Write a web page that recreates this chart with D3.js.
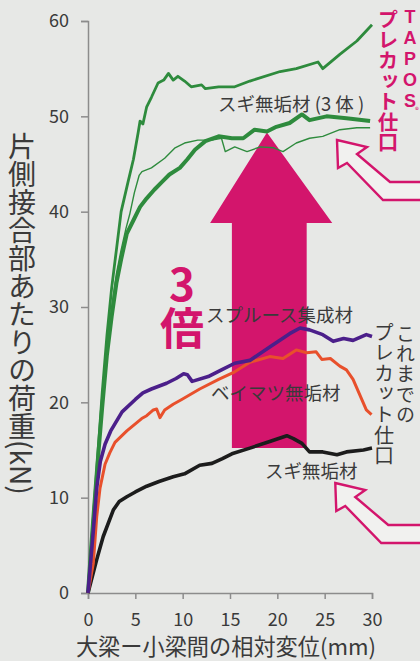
<!DOCTYPE html>
<html>
<head>
<meta charset="utf-8">
<script src="https://cdn.jsdelivr.net/npm/d3@7"></script>
<style>
  body { margin: 0; background: #e7e8e6; }
  svg { display: block; font-family: "Noto Sans CJK JP", sans-serif; }
</style>
</head>
<body>
<svg id="chart" width="420" height="661"></svg>
<script>
// values: [displacement mm, load kN]
let sugiTapos1 = [[0,0],[0.5,7],[1.0,14],[1.5,21],[2.0,27],[2.5,32],[3.0,36],[3.5,40],[4.2,43],[4.8,45.5],[5.3,48.3],[5.5,49.5],[5.8,49.2],[6.2,51],[6.7,52],[7.4,53.5],[8.0,53.8],[8.5,54.5],[9.0,53.8],[9.5,54.2],[10.2,53.7],[10.9,53.1],[12.0,53.3],[12.4,52.9],[13.8,53.1],[15.5,53.1],[17.1,53.7],[20.3,54.7],[22.0,55.0],[24.3,55.7],[24.8,55.0],[26.6,56.5],[28.4,57.9],[30,59.6]]
let sugiTapos2 = [[0,0],[0.5,7],[1.0,13.5],[1.5,19.5],[2.0,25],[2.5,29],[3.0,32.5],[3.5,35],[4.1,37.7],[4.8,39.1],[5.5,40.5],[6.2,41.4],[7.0,42.3],[7.9,43.2],[8.6,43.9],[9.7,44.6],[10.5,45.5],[11.3,46.5],[12.4,47.4],[13.8,47.9],[15.2,47.7],[16.4,47.7],[17.6,48.6],[18.9,48.4],[19.9,48.9],[21.3,49.3],[22.6,50.2],[23.4,49.6],[25.2,50.0],[27.3,49.8],[29.8,49.5]]
let sugiTapos3 = [[0,0],[0.5,7],[1.0,13.5],[1.5,20],[2.0,25.5],[2.5,30],[3.0,33.5],[3.5,36],[4.0,38.2],[4.4,39.7],[4.9,42],[5.4,43.8],[5.7,44.2],[6.7,44.6],[8.1,45.6],[9.2,46.7],[10.2,47.2],[11.6,47.5],[13.1,47.5],[14.1,47.7],[14.5,46.3],[15.5,46.8],[16.8,46.3],[18.2,46.8],[19.6,46.7],[20.6,46.3],[22.0,47.2],[23.4,47.7],[24.8,47.9],[26.6,48.6],[28.4,48.8],[29.8,48.8]]
let spruce = [[0,0],[0.3,3.5],[0.6,7],[0.92,11],[1.3,13.8],[1.8,15.6],[2.4,17],[3.6,19],[5.0,20.3],[5.8,21],[6.7,21.4],[8.3,22],[9.3,22.5],[10.1,23],[10.5,22.9],[11.0,22.2],[12.7,22.7],[14.1,23.4],[15.5,24.1],[17.1,24.4],[19.2,25.8],[21.3,27.2],[22.4,27.8],[23.4,27.6],[24.8,27.1],[25.9,26.4],[27.0,26.7],[28.0,26.5],[29.4,27.1],[30,26.9]]
let beimatsu = [[0,0],[0.56,3.1],[0.92,8],[1.27,11],[1.8,13.5],[2.3,14.7],[2.85,15.8],[4.1,17],[5.67,18.3],[6.2,18.6],[6.9,19.2],[7.25,19.3],[7.6,18.4],[8.1,19.2],[9.0,19.8],[9.9,20.3],[11.8,21.4],[13.8,22.4],[15.5,23.2],[17.1,24.2],[19.2,24.8],[20.6,24.6],[22.0,25.5],[23.1,25.2],[24.1,25.3],[24.7,24.5],[25.6,24.6],[26.6,23.8],[27.3,23.4],[28.0,22.4],[28.7,20.8],[29.4,19.2],[29.95,18.7]]
let sugi = [[0,0],[0.92,3.5],[1.6,5.9],[2.67,8.7],[3.3,9.6],[4.1,10.1],[5.0,10.6],[6.2,11.2],[7.5,11.7],[9.0,12.2],[10.2,12.5],[11.8,13.4],[13.1,13.6],[14.2,14.1],[15.2,14.6],[17.1,15.2],[19.2,15.9],[21.0,16.5],[21.7,16.2],[22.6,15.7],[23.4,14.8],[24.8,14.8],[26.3,14.5],[27.3,14.8],[29.1,15.0],[30,15.2]]

let xTicks = [0, 5, 10, 15, 20, 25, 30]
let yTicks = [0, 10, 20, 30, 40, 50, 60]

let svg = d3.select('#chart')
let pink = '#d3156c'
let ink = '#3a3a3a'

let x = d3.scaleLinear().domain([0, 30]).range([88, 372])
let y = d3.scaleLinear().domain([0, 60]).range([593, 21])

// vertical captions
function vtext(t, cx, top, size, color, weight, upright) {
    return svg.append('text').text(t)
        .attr('x', cx).attr('y', top)
        .style('writing-mode', 'vertical-rl')
        .style('text-orientation', upright ? 'upright' : 'mixed')
        .attr('font-size', size).attr('fill', color).attr('font-weight', weight)
}
// latin letters stacked one per line
function stack(chars, cx, firstY, step, size, color) {
    chars.split('').forEach((c, i) => {
        svg.append('text').text(c)
            .attr('x', cx).attr('y', firstY + i * step)
            .attr('text-anchor', 'middle').attr('dominant-baseline', 'central')
            .attr('font-family', '"Liberation Sans", sans-serif')
            .attr('font-size', size).attr('fill', color).attr('font-weight', 700)
    })
}

// big pink arrow (3x)
let arrow = [[15.2,15.2],[15.2,38.8],[12.9,38.8],[18.9,48.3],[25.8,38.8],[23.1,38.8],[23.1,15.2]]
svg.append('path')
    .attr('d', d3.line().x(d => x(d[0])).y(d => y(d[1]))(arrow) + 'Z')
    .attr('fill', pink)

vtext('3倍', 182, 262, 44, pink, 700, true)

// axes
let xAxis = svg.append('g')
    .attr('transform', 'translate(0,593)')
    .call(d3.axisBottom(x).tickValues(xTicks).tickSize(6).tickPadding(14))
let yAxis = svg.append('g')
    .attr('transform', 'translate(88,0)')
    .call(d3.axisLeft(y).tickValues(yTicks).tickSize(7).tickPadding(12))

;[xAxis, yAxis].forEach(a => {
    a.select('.domain').attr('stroke', '#8c8c8c').attr('stroke-width', 1.5)
    a.selectAll('.tick line').attr('stroke', '#8c8c8c').attr('stroke-width', 1.5)
    a.selectAll('.tick text')
        .attr('fill', ink).attr('font-size', 18)
        .attr('font-family', '"Noto Sans CJK JP", sans-serif')
})

// curves
let line = d3.line().x(d => x(d[0])).y(d => y(d[1]))
let series = [
    { data: sugiTapos3, color: '#2e8b3d', w: 1.4 },
    { data: sugiTapos1, color: '#2e8b3d', w: 2.8 },
    { data: sugiTapos2, color: '#2e8b3d', w: 4 },
    { data: sugi, color: '#1c1c1c', w: 3.6 },
    { data: beimatsu, color: '#e8502c', w: 3 },
    { data: spruce, color: '#4b1f8a', w: 3.6 }
]
svg.selectAll('.curve')
    .data(series)
    .enter()
    .append('path')
    .attr('class', 'curve')
    .attr('d', d => line(d.data))
    .attr('fill', 'none')
    .attr('stroke', d => d.color)
    .attr('stroke-width', d => d.w)
    .attr('stroke-linejoin', 'round')

// curve labels
let labels = [
    { t: 'スギ無垢材 (3 体 )', x: 218, y: 103 },
    { t: 'スプルース集成材', x: 206, y: 314 },
    { t: 'ベイマツ無垢材', x: 211, y: 392 },
    { t: 'スギ無垢材', x: 265, y: 470 }
]
svg.selectAll('.lbl')
    .data(labels)
    .enter()
    .append('text')
    .attr('class', 'lbl')
    .text(d => d.t)
    .attr('x', d => d.x).attr('y', d => d.y)
    .attr('dominant-baseline', 'central')
    .attr('font-size', 18.5).attr('fill', ink)

// outline arrows on the right
let hollow = [[337,140],[367,147],[357,154],[390,182],[424,182],[424,200],[383,200],[347,163],[338,168]]
;[0, 343].forEach(dy => {
    svg.append('path')
        .attr('d', d3.line()(hollow.map(p => [p[0] - dy / 200, p[1] + dy])) + 'Z')
        .attr('fill', '#f1f1ef')
        .attr('stroke', pink).attr('stroke-width', 2.4)
        .attr('stroke-linejoin', 'miter')
})

stack('TAPOS', 410, 17, 21, 18, pink)
svg.append('text').text('®').attr('x', 417).attr('y', 113)
    .attr('text-anchor', 'middle').attr('font-size', 8).attr('fill', pink)
vtext('プレカット仕口', 388, 9, 20.5, pink, 700, false)
vtext('これまでの', 405.5, 324, 19, ink, 400, false)
    .attr('letter-spacing', 1.3)
vtext('プレカット仕口', 384, 322, 20, ink, 400, false)
    .attr('letter-spacing', 0.6)

// axis titles
vtext('片側接合部あたりの荷重(kN)', 22, 132, 28, ink, 400, false)
svg.append('text').text('大梁ー小梁間の相対変位(mm)')
    .attr('x', 226).attr('y', 645)
    .attr('text-anchor', 'middle').attr('dominant-baseline', 'central')
    .attr('font-size', 22.2).attr('fill', ink)
</script>
</body>
</html>
